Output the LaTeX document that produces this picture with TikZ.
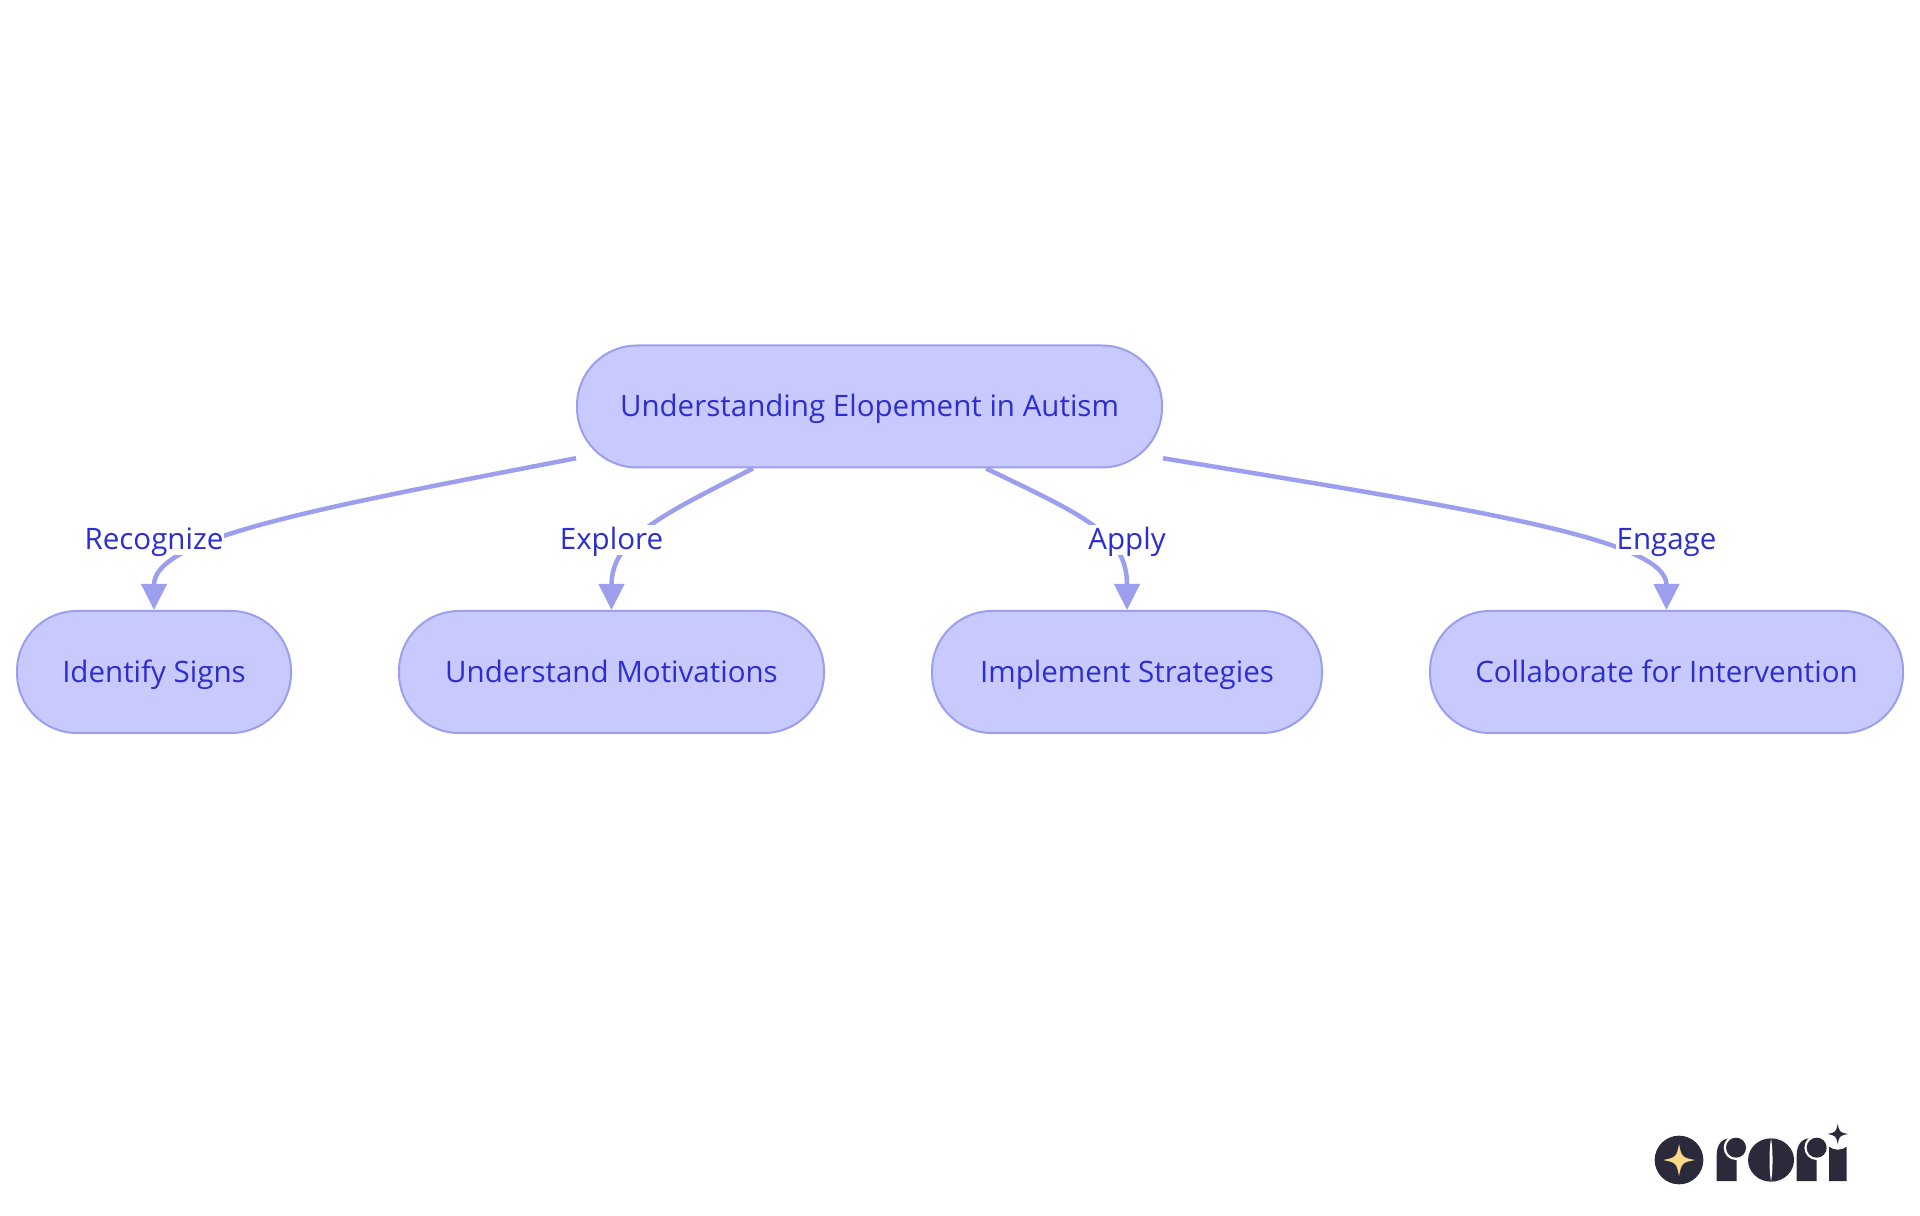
\documentclass[tikz,border=0pt]{standalone}
\usepackage{fontspec}
\setmainfont{Open Sans}
\usetikzlibrary{arrows.meta, positioning}

\definecolor{nodefill}{HTML}{C8CAFD}
\definecolor{nodeline}{HTML}{9C9EEE}
\definecolor{nodetext}{HTML}{2C2ECF}
\definecolor{logodark}{HTML}{2A2A3A}
\definecolor{logostar}{HTML}{FBD98C}

\tikzset{
    stadium/.style={draw=nodeline, fill=nodefill, text=nodetext, line width=0.04cm, rounded corners=1.2cm, minimum height=2.44cm, inner sep=0cm, text height=0.5cm, text depth=0.08cm, font=\fontsize{16.8}{20}\selectfont},
    edgelabel/.style={fill=white, text=nodetext, inner xsep=0.02cm, inner ysep=0.04cm, text height=0.46cm, text depth=0.06cm, font=\fontsize{16.8}{20}\selectfont},
    link/.style={draw=nodeline, line width=0.09cm, -{Triangle[length=0.52cm, width=0.5cm]}},
}

\newcommand{\sparkle}[4]{\fill[#4] (#1-#3,#2) .. controls (#1-0.2*#3,#2-0.15*#3) and (#1-0.15*#3,#2-0.2*#3) .. (#1,#2-#3) .. controls (#1+0.15*#3,#2-0.2*#3) and (#1+0.2*#3,#2-0.15*#3) .. (#1+#3,#2) .. controls (#1+0.2*#3,#2+0.15*#3) and (#1+0.15*#3,#2+0.2*#3) .. (#1,#2+#3) .. controls (#1-0.15*#3,#2+0.2*#3) and (#1-0.2*#3,#2+0.15*#3) .. (#1-#3,#2) -- cycle;}

\begin{document}
\begin{tikzpicture}[>=latex]
    \useasboundingbox (0,0) rectangle (38.4,24.3);

    \node[stadium, minimum width=11.7cm] (elopement) at (17.39,16.17) {Understanding Elopement in Autism};

    \node[stadium, minimum width=5.48cm, below of=elopement, node distance=5.31cm, xshift=-14.31cm] (signs) {Identify Signs};
    \node[stadium, minimum width=8.5cm, right of=signs, node distance=9.15cm] (motivations) {Understand Motivations};
    \node[stadium, minimum width=7.8cm, right of=motivations, node distance=10.31cm] (strategies) {Implement Strategies};
    \node[stadium, minimum width=9.46cm, right of=strategies, node distance=10.79cm] (intervention) {Collaborate for Intervention};

    \draw[link] (elopement.190.8) .. controls +(-5.4cm,-1.04cm) and +(0cm,1.42cm) .. (signs.north);
    \draw[link] (elopement.208.3) .. controls +(-1.75cm,-0.9cm) and +(0cm,1.45cm) .. (motivations.north);
    \draw[link] (elopement.332.3) .. controls +(1.95cm,-0.94cm) and +(0cm,1.52cm) .. (strategies.north);
    \draw[link] (elopement.350.85) .. controls +(6.26cm,-1.03cm) and +(0cm,1.42cm) .. (intervention.north);

    \node[edgelabel, above of=signs, node distance=2.64cm] (recognize) {Recognize};
    \node[edgelabel, above of=motivations, node distance=2.64cm] (explore) {Explore};
    \node[edgelabel, above of=strategies, node distance=2.64cm] (apply) {Apply};
    \node[edgelabel, above of=intervention, node distance=2.64cm] (engage) {Engage};

    \begin{scope}[shift={(32.4,2.3)}, x=0.00667cm, y=-0.00667cm]
        \fill[logodark] (177,180) circle [radius=73];
        \sparkle{177}{180}{48}{logostar}
        \fill[logodark] (290,243) -- (290,165) .. controls (290,135) and (305,115) .. (330,115) -- (350,115) -- (350,243) -- cycle;
        \fill[white] (348,143) circle [radius=37];
        \fill[logodark] (348,143) circle [radius=30];
        \fill[logodark] (453,180) ellipse [x radius=69, y radius=65];
        \fill[white] (453,115) .. controls (447,150) and (447,210) .. (453,245) .. controls (459,210) and (459,150) .. (453,115) -- cycle;
        \fill[logodark] (530,243) -- (530,165) .. controls (530,135) and (545,115) .. (570,115) -- (590,115) -- (590,243) -- cycle;
        \fill[white] (590,143) circle [radius=37];
        \fill[logodark] (590,143) circle [radius=30];
        \fill[logodark] (627,243) -- (627,140) .. controls (640,152) and (667,152) .. (680,140) -- (680,243) -- cycle;
        \sparkle{653}{102}{31}{logodark}
    \end{scope}
\end{tikzpicture}
\end{document}
